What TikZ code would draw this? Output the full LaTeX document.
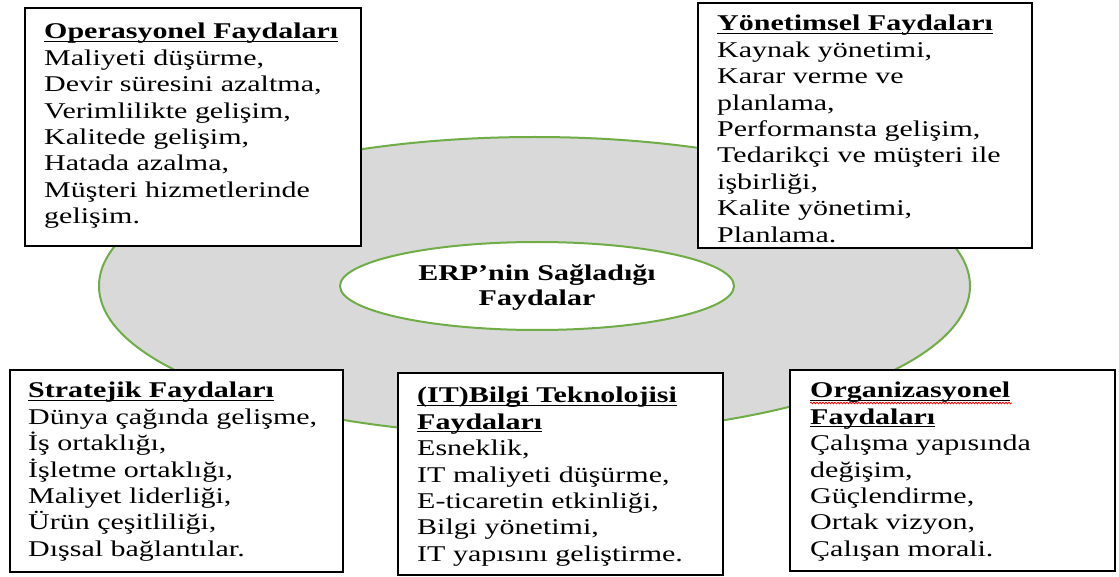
\documentclass[tikz,border=0pt]{standalone}
\usepackage{fontspec}
\setmainfont{Liberation Serif}[FakeStretch=1.333]
\usetikzlibrary{shapes.geometric,decorations.pathmorphing}
\definecolor{egreen}{HTML}{70AD47}
\definecolor{egray}{HTML}{D9D9D9}
\newcommand\ulbar[1]{\setbox0\hbox{\textbf{#1}}\rlap{\rule[-3pt]{\wd0}{1.3pt}}\box0}
\begin{document}
\begin{tikzpicture}[x=1pt,y=-1pt,
  frame/.style={draw=black, line width=2pt, fill=white, inner sep=0pt},
  body/.style={anchor=north west, inner sep=0pt, align=left,
    font=\fontsize{22.5}{26.4}\selectfont},
  oval/.style={ellipse, draw=egreen, line width=2pt, inner sep=0pt}]
\useasboundingbox[fill=white] (0,0) rectangle (1119,577);
% central ellipses
\node[oval, fill=egray, minimum width=871pt, minimum height=298pt] (big) at (534.5,286) {};
\node[oval, fill=white, minimum width=394pt, minimum height=88pt] (erp) at (537,286) {};
\node[align=center, inner sep=0pt, font=\fontsize{22.5}{25}\selectfont\bfseries] (erptxt) at (537,288) {ERP’nin Sağladığı\\Faydalar};
% boxes
\node[frame, minimum width=336pt, minimum height=238pt] (op) at (193,127) {};
\node[frame, minimum width=334pt, minimum height=245pt] (yon) at (865,125.5) {};
\node[frame, minimum width=333pt, minimum height=202pt] (str) at (176.5,471) {};
\node[frame, minimum width=325pt, minimum height=202pt] (it) at (560.5,474) {};
\node[frame, minimum width=325pt, minimum height=201pt] (org) at (952.5,470.5) {};
% texts
\node[body] (optxt) at (44,23) {\ulbar{Operasyonel Faydaları}\\Maliyeti düşürme,\\Devir süresini azaltma,\\Verimlilikte gelişim,\\Kalitede gelişim,\\Hatada azalma,\\Müşteri hizmetlerinde\\gelişim.};
\node[body] (yontxt) at (717,15) {\ulbar{Yönetimsel Faydaları}\\Kaynak yönetimi,\\Karar verme ve\\planlama,\\Performansta gelişim,\\Tedarikçi ve müşteri ile\\işbirliği,\\Kalite yönetimi,\\Planlama.};
\node[body] (strtxt) at (28,382) {\ulbar{Stratejik Faydaları}\\Dünya çağında gelişme,\\İş ortaklığı,\\İşletme ortaklığı,\\Maliyet liderliği,\\Ürün çeşitliliği,\\Dışsal bağlantılar.};
\node[body] (ittxt) at (417,387) {\ulbar{(IT)Bilgi Teknolojisi}\\\ulbar{Faydaları}\\Esneklik,\\IT maliyeti düşürme,\\E-ticaretin etkinliği,\\Bilgi yönetimi,\\IT yapısını geliştirme.};
\node[body] (orgtxt) at (810,382) {\ulbar{Organizasyonel}\\\ulbar{Faydaları}\\Çalışma yapısında\\değişim,\\Güçlendirme,\\Ortak vizyon,\\Çalışan morali.};
% spell-check wave
\coordinate (w1) at (810,403);
\coordinate (w2) at (1012,403);
\draw[red, line width=0.8pt, decorate, decoration={snake, amplitude=0.8pt, segment length=3pt}] (w1) -- (w2);
\end{tikzpicture}
\end{document}
